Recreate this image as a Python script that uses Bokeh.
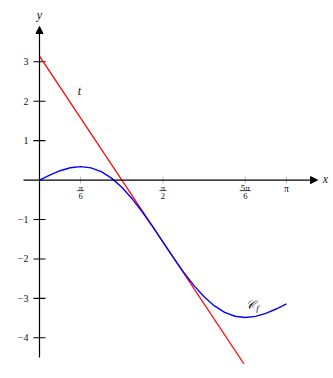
import math
from bokeh.plotting import figure
from bokeh.models import Range1d, Arrow, NormalHead
from bokeh.core.properties import value
from bokeh.embed import file_html
from bokeh.resources import INLINE

# ---- data ----
curve_x = [0.0, 0.1309, 0.2618, 0.3927, 0.5236, 0.6545, 0.7854, 0.9163, 1.0472,
           1.1781, 1.3090, 1.4399, 1.5708, 1.7017, 1.8326, 1.9635, 2.0944, 2.2253,
           2.3562, 2.4871, 2.6180, 2.7489, 2.8798, 3.0107, 3.1416]
curve_y = [0.0, 0.1279, 0.2382, 0.3144, 0.3424, 0.3114, 0.2146, 0.0496, -0.1812,
           -0.4710, -0.8090, -1.1811, -1.5708, -1.9605, -2.3326, -2.6706, -2.9604, -3.1912,
           -3.3562, -3.4530, -3.4840, -3.4560, -3.3798, -3.2695, -3.1416]
tangent_x = [0.0, 2.6]
tangent_y = [3.1416, -4.658]

y_ticks = [-4, -3, -2, -1, 1, 2, 3]
y_tick_labels = ["\u22124", "\u22123", "\u22122", "\u22121", "1", "2", "3"]
frac_ticks = [math.pi / 6, math.pi / 2, 5 * math.pi / 6]
frac_num = ["\u03c0", "\u03c0", "5\u03c0"]
frac_den = ["6", "2", "6"]
plain_ticks = [math.pi]
plain_labels = ["\u03c0"]

# ---- geometry (pixels per unit) ----
SX = 78.6
SY = 39.43
X0 = 39.0     # pixel of x=0
Y0 = 179.6    # pixel of y=0
W, H = 333, 378

def dx(px):
    return px / SX

def dy(px):
    return px / SY

p = figure(width=W, height=H, output_backend="svg", toolbar_location=None,
           x_range=Range1d(-X0 / SX, (W - X0) / SX),
           y_range=Range1d(-(H - Y0) / SY, Y0 / SY),
           x_axis_type=None, y_axis_type=None, min_border=0)
p.outline_line_color = None
p.grid.visible = False
p.background_fill_color = "white"
p.border_fill_color = "white"

FONT = value("Liberation Serif")
TC = "#111111"

# axes with arrows
x_lo, x_hi = dx(23 - X0), dx(317 - X0)
y_lo, y_hi = -dy(357 - Y0), dy(Y0 - 26)
p.add_layout(Arrow(x_start=x_lo, y_start=0, x_end=x_hi, y_end=0, line_width=1.2,
                   line_color="black",
                   end=NormalHead(size=7, fill_color="black", line_color="black", line_width=1)))
p.add_layout(Arrow(x_start=0, y_start=y_lo, x_end=0, y_end=y_hi, line_width=1.2,
                   line_color="black",
                   end=NormalHead(size=7, fill_color="black", line_color="black", line_width=1)))

# y ticks (black, crossing)
p.segment(x0=[-dx(6)] * len(y_ticks), x1=[dx(6)] * len(y_ticks), y0=y_ticks, y1=y_ticks,
          line_color="black", line_width=1.1)
p.text(x=[-dx(11)] * len(y_ticks), y=y_ticks, text=y_tick_labels, text_font=FONT,
       text_font_size="10px", text_align="right", text_baseline="middle", text_color=TC)

# x ticks (faint gray)
all_xt = frac_ticks + plain_ticks
p.segment(x0=all_xt, x1=all_xt, y0=[-dy(3.5)] * len(all_xt), y1=[dy(3.5)] * len(all_xt),
          line_color="#aaaaaa", line_width=0.8)
# fraction labels
p.text(x=frac_ticks, y=[-dy(7.5)] * len(frac_ticks), text=frac_num, text_font=FONT,
       text_font_size="9px", text_align="center", text_baseline="middle", text_color=TC)
bar_w = [dx(3.5) if len(n) == 1 else dx(5.5) for n in frac_num]
p.segment(x0=[t - w for t, w in zip(frac_ticks, bar_w)], x1=[t + w for t, w in zip(frac_ticks, bar_w)],
          y0=[-dy(10.5)] * len(frac_ticks), y1=[-dy(10.5)] * len(frac_ticks),
          line_color=TC, line_width=0.7)
p.text(x=frac_ticks, y=[-dy(15.5)] * len(frac_ticks), text=frac_den, text_font=FONT,
       text_font_size="8.5px", text_align="center", text_baseline="middle", text_color=TC)
p.text(x=plain_ticks, y=[-dy(8.5)] * len(plain_ticks), text=plain_labels, text_font=FONT,
       text_font_size="9.5px", text_align="center", text_baseline="middle", text_color=TC)

# curves
p.line(tangent_x, tangent_y, line_color="#ff0000", line_width=1.3)
p.line(curve_x, curve_y, line_color="#0000ff", line_width=1.4)

# labels
p.text(x=[dx(325 - X0)], y=[dy(Y0 - 178)], text=["x"], text_font=FONT, text_font_style="italic",
       text_font_size="12px", text_align="center", text_baseline="middle", text_color=TC)
p.text(x=[0], y=[dy(Y0 - 14)], text=["y"], text_font=FONT, text_font_style="italic",
       text_font_size="12px", text_align="center", text_baseline="middle", text_color=TC)
p.text(x=[dx(79 - X0)], y=[dy(Y0 - 90)], text=["t"], text_font=FONT, text_font_style="italic",
       text_font_size="12px", text_align="center", text_baseline="middle", text_color=TC)
p.text(x=[dx(250 - X0)], y=[dy(Y0 - 304)], text=["\U0001D49E"], text_font=value("DejaVu Serif"),
       text_font_style="italic", text_font_size="12px", text_align="center", text_baseline="middle",
       text_color=TC)
p.text(x=[dx(257 - X0)], y=[dy(Y0 - 307)], text=["f"], text_font=FONT, text_font_style="italic",
       text_font_size="9px", text_align="center", text_baseline="middle", text_color=TC)

open("out.html", "w").write(file_html(p, INLINE))
